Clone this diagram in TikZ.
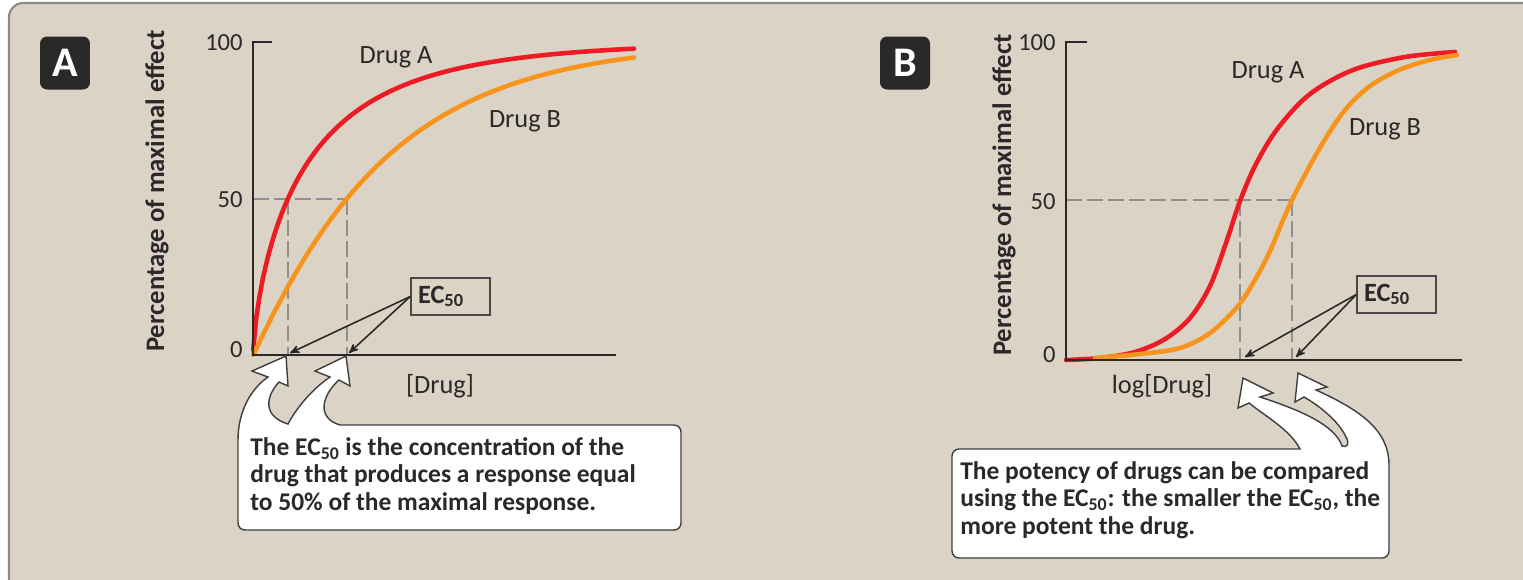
\documentclass[tikz,border=0pt]{standalone}
\usepackage{fontspec}
\setmainfont{Carlito}
\usetikzlibrary{positioning, arrows}
\definecolor{paper}{HTML}{DAD3C6}
\definecolor{frame}{HTML}{8E8C88}
\definecolor{ink}{HTML}{2B2829}
\definecolor{drugred}{HTML}{ED1C24}
\definecolor{drugorange}{HTML}{F7941D}
\definecolor{guide}{HTML}{8F8F8F}
\tikzset{
        >=stealth', % filled heads for the EC50 pointers
        axis/.style={draw=ink, line width=1.1pt},
        redcurve/.style={draw=drugred, line width=2.6pt, line cap=round},
        orangecurve/.style={draw=drugorange, line width=2.6pt, line cap=round},
        guideline/.style={draw=guide, line width=0.6pt, dash pattern=on 9pt off 3pt},
        tag/.style={fill=ink, rounded corners=4pt, text=white, font=\bfseries\fontsize{24}{24}\selectfont, minimum width=1cm, minimum height=1.06cm, inner sep=0pt},
        ticklabel/.style={text=ink, font=\fontsize{14}{14}\selectfont, anchor=east, inner sep=0pt},
        ylabel/.style={text=ink, font=\bfseries\fontsize{15.2}{15.2}\selectfont, rotate=90, inner sep=0pt},
        curvelabel/.style={text=ink, font=\fontsize{15}{15}\selectfont, inner sep=0pt},
        ecbox/.style={draw=ink!85, line width=0.8pt, minimum height=0.74cm, text width=1.3cm, align=left, inner xsep=4pt, text=ink, font=\bfseries\fontsize{15}{15}\selectfont},
        pointer/.style={->, draw=ink, line width=0.9pt},
        balloon/.style={fill=white, draw=ink!90, line width=0.8pt},
        balloontext/.style={text=ink, font=\bfseries\fontsize{14.5}{15.6}\selectfont, align=left, anchor=north west, inner sep=0pt},
}
\newcommand{\ecf}{EC\textsubscript{50}}
% outlines of the two white callouts, arrows and box in one path
\def\balloonA{(238,440) .. controls (238,410) and (252,388) .. (268,377) -- (252,371) -- (286,356) -- (288,386) -- (279,382) .. controls (266,396) and (262,416) .. (288,424) .. controls (298,405) and (315,387) .. (330,377) -- (315,371) -- (346,356) -- (350,386) -- (339,380) .. controls (322,395) and (316,418) .. (340,425) [rounded corners=4pt] -- (681,425) -- (681,530) -- (238,530) [sharp corners] -- cycle}
\def\balloonB{(952,500) [rounded corners=4pt] -- (952,449) [sharp corners] -- (1300,449) .. controls (1290,430) and (1268,418) .. (1249,403) -- (1238,408) -- (1243,378) -- (1273,393) -- (1260,397) .. controls (1300,410) and (1335,425) .. (1342,446) .. controls (1347,448) and (1350,444) .. (1346,437) .. controls (1338,420) and (1318,405) .. (1304,397) -- (1295,402) -- (1298,373) -- (1327,387) -- (1316,390) .. controls (1360,410) and (1389,430) .. (1389,465) [rounded corners=4pt] -- (1389,558) -- (952,558) [sharp corners] -- cycle}

\begin{document}
\begin{tikzpicture}[x=0.02cm, y=-0.02cm]
  \useasboundingbox (0,0) rectangle (1523,579);
  \clip (0,0) rectangle (1523,579);
  \fill[white] (0,0) rectangle (1523,579);
  \draw[draw=frame, fill=paper, line width=1.2pt, rounded corners=8pt] (9,3) rectangle (1560,620);

  % panel A
  \node[tag] (tagA) at (65,63) {A};
  \draw[guideline] (253,199) -- (347,199) (288,199) -- (288,355) (347,199) -- (347,355);
  \draw[redcurve] plot[domain=0.2:381, samples=120] ({253+\x},{355-313*(1-exp(-(\x/58.3)^0.718))});
  \draw[orangecurve] plot[domain=0.2:381, samples=120] ({253+\x},{355-313*(1-exp(-(\x/133.4)^1.047))});
  \draw[axis] (272,42) -- (253,42) -- (253,355) -- (616,355);
  \node[ticklabel] (hundredA) at (243,43) {100};
  \node[ticklabel] (fiftyA) at (243,200) {50};
  \node[ticklabel] (zeroA) at (243,350) {0};
  \node[ylabel] (ylabA) at (157,191) {Percentage of maximal effect};
  \node[curvelabel] (lblredA) at (396,57) {Drug A};
  \node[curvelabel] (lblorangeA) at (525,121) {Drug B};
  \node[curvelabel] (xlabA) at (440,386) {[Drug]};
  \node[ecbox] (ecA) at (450.5,296.5) {\ecf};
  \coordinate (ecA-1) at (290,353);
  \coordinate (ecA-2) at (349,353);
  \draw[pointer] (ecA.west) -- (ecA-1);
  \draw[pointer] (ecA.west) -- (ecA-2);
  \draw[balloon] \balloonA;
  \node[balloontext] (noteA) at (250,437) {The \ecf{} is the concentration of the\\drug that produces a response equal\\to 50\% of the maximal response.};

  % panel B
  \node[tag] (tagB) at (905,63) {B};
  \draw[guideline] (1066,200) -- (1292,200) (1240,200) -- (1240,360) (1292,200) -- (1292,360);
  \draw[redcurve] plot[smooth, tension=0.55] coordinates {(1066,360) (1100,358) (1135,352) (1165,339) (1190,318) (1210,286) (1226,243) (1240,201) (1256,164) (1278,128) (1310,94) (1353,70) (1405,57) (1455,52)};
  \draw[orangecurve] plot[smooth, tension=0.55] coordinates {(1095,358) (1140,354) (1180,348) (1210,333) (1238,306) (1256,278) (1270,251) (1292,200) (1321,146) (1345,110) (1370,86) (1399,70) (1430,60) (1457,55)};
  \draw[axis] (1087,42) -- (1066,42) -- (1066,360) -- (1462,360);
  \node[ticklabel] (hundredB) at (1056,43) {100};
  \node[ticklabel] (fiftyB) at (1056,202) {50};
  \node[ticklabel] (zeroB) at (1056,355) {0};
  \node[ylabel] (ylabB) at (1004,195) {Percentage of maximal effect};
  \node[curvelabel] (lblredB) at (1268,72) {Drug A};
  \node[curvelabel] (lblorangeB) at (1385,129) {Drug B};
  \node[curvelabel] (xlabB) at (1162,386) {log[Drug]};
  \node[ecbox] (ecB) at (1396.5,294.5) {\ecf};
  \coordinate (ecB-1) at (1245,357);
  \coordinate (ecB-2) at (1296,357);
  \draw[pointer] (ecB.west) -- (ecB-1);
  \draw[pointer] (ecB.west) -- (ecB-2);
  \draw[balloon] \balloonB;
  \node[balloontext] (noteB) at (960,461) {The potency of drugs can be compared\\using the \ecf: the smaller the \ecf, the\\more potent the drug.};
\end{tikzpicture}
\end{document}
